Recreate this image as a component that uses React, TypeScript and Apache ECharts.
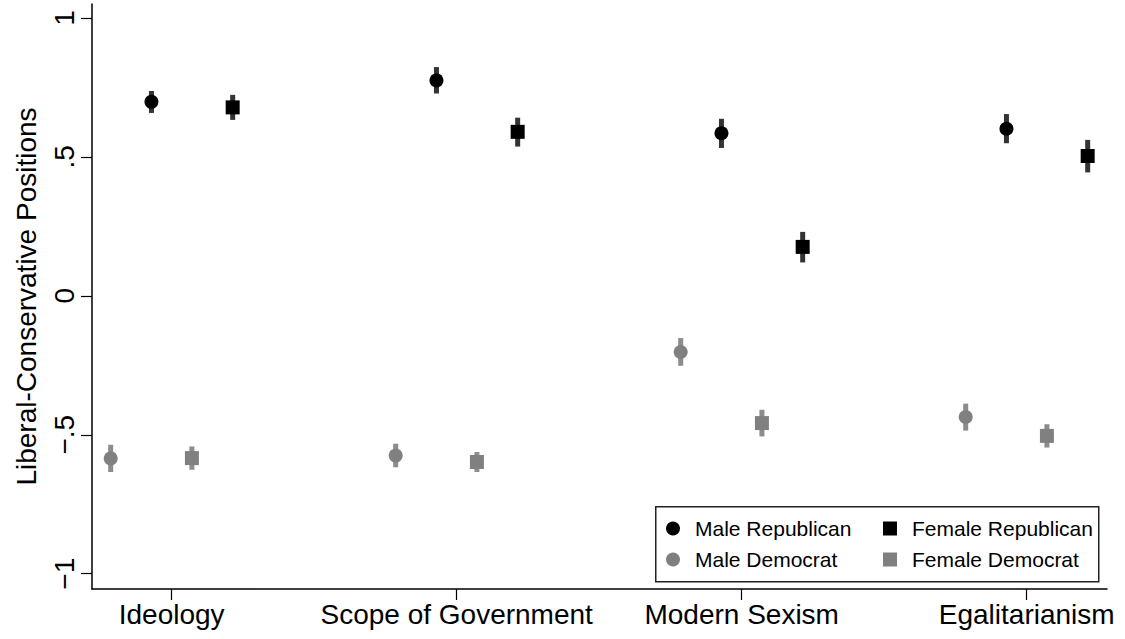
import React, { useEffect, useRef } from "react";
import * as echarts from "echarts";

const categories = ["Ideology", "Scope of Government", "Modern Sexism", "Egalitarianism"];
const yTickValues = [-1, -0.5, 0, 0.5, 1];
const yTickLabels = ["\u22121", "\u2212.5", "0", ".5", "1"];

const maleRep = [0.698, 0.775, 0.585, 0.601];
const maleRepLo = [0.658, 0.728, 0.532, 0.549];
const maleRepHi = [0.737, 0.823, 0.637, 0.654];

const femaleRep = [0.678, 0.59, 0.176, 0.503];
const femaleRepLo = [0.633, 0.537, 0.12, 0.444];
const femaleRepHi = [0.723, 0.641, 0.23, 0.561];

const maleDem = [-0.585, -0.575, -0.202, -0.436];
const maleDemLo = [-0.634, -0.617, -0.252, -0.485];
const maleDemHi = [-0.536, -0.532, -0.152, -0.388];

const femaleDem = [-0.584, -0.598, -0.458, -0.504];
const femaleDemLo = [-0.626, -0.634, -0.506, -0.546];
const femaleDemHi = [-0.542, -0.562, -0.41, -0.462];

const FONT = 'Helvetica, "Liberation Sans", Arial, sans-serif';

export default function App() {
  const ref = useRef<HTMLDivElement>(null);
  useEffect(() => {
    document.body.style.margin = "0";
    if (!ref.current) return;
    const chart = echarts.init(ref.current, null, { renderer: "svg" });

    const groups = [
      { name: "Male Republican", vals: maleRep, lo: maleRepLo, hi: maleRepHi, off: -0.071, symbol: "circle", color: "#000000", bar: "#333333" },
      { name: "Female Republican", vals: femaleRep, lo: femaleRepLo, hi: femaleRepHi, off: 0.214, symbol: "rect", color: "#000000", bar: "#333333" },
      { name: "Male Democrat", vals: maleDem, lo: maleDemLo, hi: maleDemHi, off: -0.214, symbol: "circle", color: "#808080", bar: "#8c8c8c" },
      { name: "Female Democrat", vals: femaleDem, lo: femaleDemLo, hi: femaleDemHi, off: 0.071, symbol: "rect", color: "#808080", bar: "#8c8c8c" },
    ];

    const series: any[] = [];
    groups.forEach((g) => {
      series.push({
        type: "custom",
        name: g.name + " CI",
        z: 2,
        silent: true,
        data: g.vals.map((_, i) => [i + 1 + g.off, g.lo[i], g.hi[i]]),
        renderItem: (params: any, api: any) => {
          const x = api.value(0);
          const p1 = api.coord([x, api.value(2)]);
          const p2 = api.coord([x, api.value(1)]);
          return {
            type: "rect",
            shape: { x: p1[0] - 2.5, y: p1[1], width: 5, height: p2[1] - p1[1] },
            style: { fill: g.bar },
          };
        },
      });
    });
    groups.forEach((g) => {
      series.push({
        type: "scatter",
        name: g.name,
        z: 3,
        symbol: g.symbol,
        symbolSize: 14,
        itemStyle: { color: g.color, opacity: 1 },
        data: g.vals.map((v, i) => [i + 1 + g.off, v]),
      });
    });

    const legendCommon = {
      orient: "vertical",
      top: 518,
      padding: 0,
      itemWidth: 14,
      itemHeight: 14,
      itemGap: 10,
      selectedMode: false,
      textStyle: { fontSize: 21, fontFamily: FONT, color: "#000", padding: [0, 0, 0, 10] },
    };

    chart.setOption({
      animation: false,
      backgroundColor: "#ffffff",
      grid: { left: 92, right: 18, top: 4, bottom: 50, containLabel: false },
      xAxis: {
        type: "value",
        min: 0.7204,
        max: 4.2818,
        splitLine: { show: false },
        axisLine: { show: true, onZero: false, lineStyle: { color: "#000", width: 1.5 } },
        axisTick: { show: true, length: 11, customValues: [1, 2, 3, 4], lineStyle: { color: "#000", width: 1.2 } },
        axisLabel: {
          customValues: [1, 2, 3, 4],
          formatter: (v: number) => categories[Math.round(v) - 1],
          fontSize: 28,
          fontFamily: FONT,
          color: "#000",
          margin: 11,
        },
      },
      yAxis: {
        type: "value",
        min: -1.055,
        max: 1.05,
        name: "Liberal-Conservative Positions",
        nameLocation: "middle",
        nameGap: 52,
        nameRotate: 90,
        nameTextStyle: { fontSize: 28, fontFamily: FONT, color: "#000" },
        splitLine: { show: false },
        axisLine: { show: true, onZero: false, lineStyle: { color: "#000", width: 1.5 } },
        axisTick: { show: true, length: 11, customValues: yTickValues, lineStyle: { color: "#000", width: 1.2 } },
        axisLabel: {
          customValues: yTickValues,
          rotate: 90,
          formatter: (v: number) => {
            const idx = yTickValues.findIndex((t) => Math.abs(t - v) < 1e-6);
            return idx >= 0 ? yTickLabels[idx] : "";
          },
          fontSize: 28,
          fontFamily: FONT,
          color: "#000",
          margin: 14,
        },
      },
      legend: [
        { ...legendCommon, left: 666, data: ["Male Republican", "Male Democrat"] },
        { ...legendCommon, left: 883, data: ["Female Republican", "Female Democrat"] },
      ],
      graphic: [
        {
          type: "rect",
          left: 655,
          top: 506,
          shape: { width: 443, height: 75 },
          style: { fill: "#ffffff", stroke: "#222", lineWidth: 1.5 },
          z: -1,
        },
      ],
      series,
    });
    return () => chart.dispose();
  }, []);
  return <div ref={ref} style={{ width: 1125, height: 639 }} />;
}
